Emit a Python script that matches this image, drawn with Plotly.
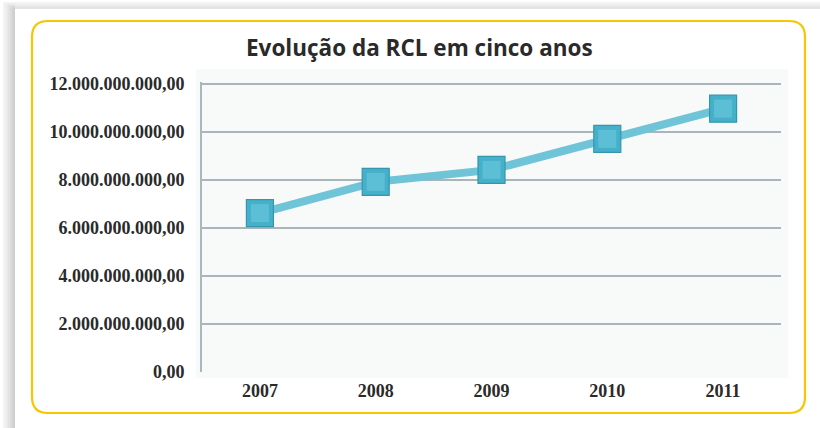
import plotly.graph_objects as go

# ---- data ----
years = ["2007", "2008", "2009", "2010", "2011"]
rcl = [6.62e9, 7.92e9, 8.42e9, 9.71e9, 10.97e9]
y_tick_vals = [0, 2e9, 4e9, 6e9, 8e9, 10e9, 12e9]
y_tick_text = ["0,00", "2.000.000.000,00", "4.000.000.000,00", "6.000.000.000,00",
               "8.000.000.000,00", "10.000.000.000,00", "12.000.000.000,00"]
title_text = "Evolução da RCL em cinco anos"

W, H = 820, 428
L, R, T, B = 202, 39, 82, 56
PW, PH = W - L - R, H - T - B


def px(x):
    return (x - L) / PW


def py(y):
    return (H - B - y) / PH


def rounded_path(x0, y0, x1, y1, r):
    pts = [
        f"M{px(x0 + r)},{py(y0)}",
        f"L{px(x1 - r)},{py(y0)}",
        f"Q{px(x1)},{py(y0)} {px(x1)},{py(y0 + r)}",
        f"L{px(x1)},{py(y1 - r)}",
        f"Q{px(x1)},{py(y1)} {px(x1 - r)},{py(y1)}",
        f"L{px(x0 + r)},{py(y1)}",
        f"Q{px(x0)},{py(y1)} {px(x0)},{py(y1 - r)}",
        f"L{px(x0)},{py(y0 + r)}",
        f"Q{px(x0)},{py(y0)} {px(x0 + r)},{py(y0)}",
        "Z",
    ]
    return " ".join(pts)


shapes = []
# background shadow strips
for i, c in enumerate(["#f4f4f4", "#ececec", "#e3e3e3", "#d9d9d9", "#cfcfcf"]):
    shapes.append(dict(type="rect", xref="paper", yref="paper", layer="below",
                       x0=px(3 + i * 2.4), x1=px(15), y0=py(428), y1=py(2 + i * 1.4),
                       fillcolor=c, line=dict(width=0)))
for i, c in enumerate(["#f3f3f3", "#ebebeb", "#e4e4e4"]):
    shapes.append(dict(type="rect", xref="paper", yref="paper", layer="below",
                       x0=px(15), x1=px(830), y0=py(9), y1=py(2 + i * 2.3),
                       fillcolor=c, line=dict(width=0)))
# white card
shapes.append(dict(type="path", xref="paper", yref="paper", layer="below",
                   path=rounded_path(15, 9, 850, 427, 16),
                   fillcolor="#ffffff", line=dict(width=0)))
# yellow rounded border
shapes.append(dict(type="path", xref="paper", yref="paper", layer="below",
                   path=rounded_path(32, 21, 805, 413, 16),
                   fillcolor="#ffffff", line=dict(color="#f6c700", width=2.2)))
# plot area light background
shapes.append(dict(type="rect", xref="paper", yref="paper", layer="below",
                   x0=px(196), x1=px(788), y0=py(378), y1=py(69),
                   fillcolor="#f8f9f9", line=dict(width=0)))

fig = go.Figure()
fig.add_trace(go.Scatter(
    x=years, y=rcl, mode="lines",
    line=dict(color="#6fc4d8", width=8),
    hoverinfo="skip", showlegend=False))
fig.add_trace(go.Scatter(
    x=years, y=rcl, mode="markers",
    marker=dict(symbol="square", size=27, color="#45b0ca",
                line=dict(color="#3596ae", width=1.2)),
    showlegend=False))
fig.add_trace(go.Scatter(
    x=years, y=rcl, mode="markers",
    marker=dict(symbol="square", size=18, color="#5cbfd6",
                line=dict(width=0)),
    hoverinfo="skip", showlegend=False))

fig.update_layout(
    width=W, height=H,
    margin=dict(l=L, r=R, t=T, b=B, pad=0),
    paper_bgcolor="#ffffff",
    plot_bgcolor="rgba(0,0,0,0)",
    shapes=shapes,
    annotations=[dict(text=title_text, xref="paper", yref="paper",
                      x=px(419), y=py(47), xanchor="center", yanchor="middle",
                      showarrow=False,
                      font=dict(family="Open Sans", size=22.5, color="#2a2a2a", weight="bold"))],
    xaxis=dict(type="category", range=[-0.5, 4.5], showgrid=False, zeroline=False,
               showline=False, ticks="outside", ticklen=2, tickcolor="rgba(0,0,0,0)",
               tickfont=dict(family="Liberation Serif", size=18, color="#2a2a2a", weight="bold"),
               fixedrange=True),
    yaxis=dict(range=[0, 12.08e9], tickvals=y_tick_vals, ticktext=y_tick_text,
               showgrid=True, gridcolor="#a9b5ba", gridwidth=2, zeroline=False,
               showline=True, linecolor="#a9b8bd", linewidth=2,
               ticks="outside", ticklen=12, tickcolor="rgba(0,0,0,0)",
               tickfont=dict(family="Liberation Serif", size=18, color="#2a2a2a", weight="bold"),
               fixedrange=True),
)

fig.write_html("out.html", config={"displayModeBar": False},
               post_script="document.body.style.margin='0';")
